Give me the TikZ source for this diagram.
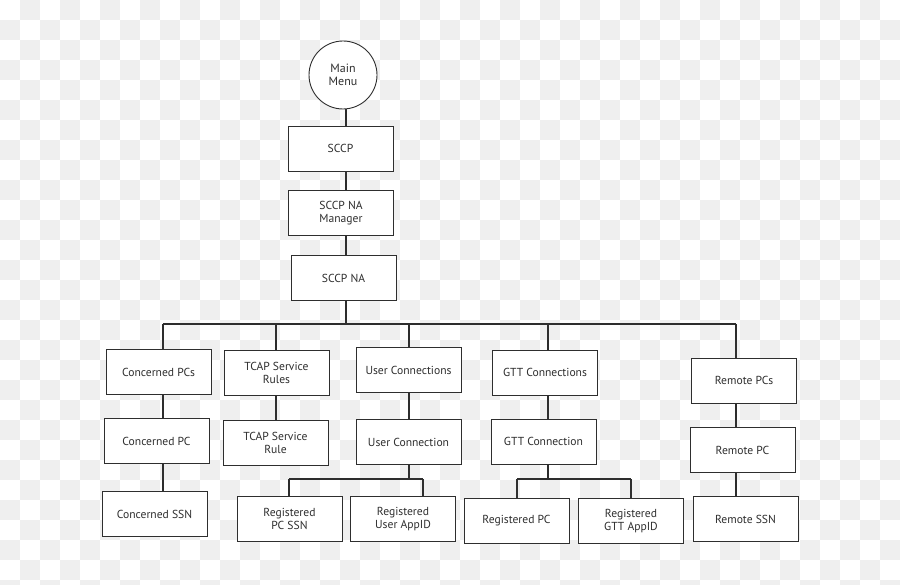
\documentclass[tikz,border=0pt]{standalone}
\usepackage{fontspec}
\setmainfont{PT Sans}
\usetikzlibrary{positioning}
\definecolor{checker}{HTML}{EFEFEF}
\definecolor{ink}{HTML}{2E2E2E}

\begin{document}
\begin{tikzpicture}[x=1pt,y=-1pt,
    semithick,
    menubox/.style={rectangle,draw=ink,line width=0.9pt,fill=white,
      minimum width=105,minimum height=45,inner sep=0,text=ink,align=center,
      font=\fontsize{11.6}{12.8}\selectfont},
    menucirc/.style={circle,draw=ink,line width=0.9pt,fill=white,
      minimum size=68,inner sep=0,text=ink,align=center,
      font=\fontsize{12}{13}\selectfont},
    link/.style={draw=ink,line width=1.2pt}
    ]
\useasboundingbox (0,0) rectangle (900,585);
\foreach \x in {0,40,...,880}
  \foreach \y in {0,40,...,560}
    {\fill[checker] (\x+20,\y) rectangle ++(20,20);
     \fill[checker] (\x,\y+20) rectangle ++(20,20);}

\coordinate (bus) at (346,324);
\coordinate (c1) at (163,324);
\coordinate (c2) at (276,324);
\coordinate (c3) at (409,324);
\coordinate (c4) at (548,324);
\coordinate (c5) at (736,324);
\coordinate (u1) at (289,479);
\coordinate (u2) at (423,479);
\coordinate (g1) at (517,479);
\coordinate (g2) at (631,479);

\node[menucirc] (menu) at (343,75) {Main\\Menu};
\node[menubox] (sccp) at (340.5,148.5) {SCCP};
\node[menubox] (namgr) at (341,213) {SCCP NA\\Manager};
\node[menubox] (na) at (343.5,278) {SCCP NA};

\node[menubox] (cpcs) at (158.5,372) {Concerned PCs};
\node[menubox] (cpc) at (156.5,441) {Concerned PC};
\node[menubox] (cssn) at (154.5,514) {Concerned SSN};

\node[menubox] (tsrs) at (276.5,373) {TCAP Service\\Rules};
\node[menubox] (tsr) at (275.5,443) {TCAP Service\\Rule};

\node[menubox] (ucons) at (408.5,370) {User Connections};
\node[menubox] (ucon) at (408.5,442) {User Connection};
\node[menubox] (rpcssn) at (289.5,519) {Registered\\PC SSN};
\node[menubox] (ruapp) at (403,519) {Registered\\User AppID};

\node[menubox] (gcons) at (545,372.5) {GTT Connections};
\node[menubox] (gcon) at (543.5,441.5) {GTT Connection};
\node[menubox] (rpc) at (516.5,521) {Registered PC};
\node[menubox] (rgapp) at (631,521) {Registered\\GTT AppID};

\node[menubox] (rpcs) at (744,380.5) {Remote PCs};
\node[menubox] (rempc) at (742.5,450) {Remote PC};
\node[menubox] (rssn) at (745.5,519) {Remote SSN};

\draw[link] (menu.south -| bus) -- (sccp.north -| bus);
\draw[link] (sccp.south -| bus) -- (namgr.north -| bus);
\draw[link] (namgr.south -| bus) -- (na.north -| bus);
\draw[link] (na.south -| bus) -- (bus);
\draw[link] (c1) -- (c5);

\draw[link] (c1) -- (c1 |- cpcs.north);
\draw[link] (cpcs.south -| c1) -- (cpc.north -| c1);
\draw[link] (cpc.south -| c1) -- (cssn.north -| c1);

\draw[link] (c2) -- (c2 |- tsrs.north);
\draw[link] (tsrs.south -| c2) -- (tsr.north -| c2);

\draw[link] (c3) -- (c3 |- ucons.north);
\draw[link] (ucons.south -| c3) -- (ucon.north -| c3);
\draw[link] (ucon.south -| c3) -- (c3 |- u1);
\draw[link] (u1) -- (u2);
\draw[link] (u1) -- (u1 |- rpcssn.north);
\draw[link] (u2) -- (u2 |- ruapp.north);

\draw[link] (c4) -- (c4 |- gcons.north);
\draw[link] (gcons.south -| c4) -- (gcon.north -| c4);
\draw[link] (gcon.south -| c4) -- (c4 |- g1);
\draw[link] (g1) -- (g2);
\draw[link] (g1) -- (g1 |- rpc.north);
\draw[link] (g2) -- (g2 |- rgapp.north);

\draw[link] (c5) -- (c5 |- rpcs.north);
\draw[link] (rpcs.south -| c5) -- (rempc.north -| c5);
\draw[link] (rempc.south -| c5) -- (rssn.north -| c5);
\end{tikzpicture}
\end{document}
